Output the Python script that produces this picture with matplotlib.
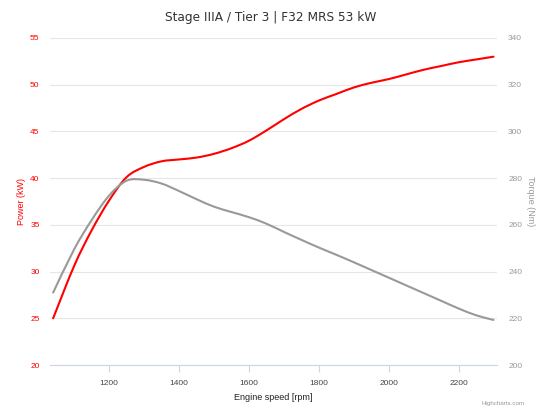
import matplotlib
matplotlib.use("Agg")
import matplotlib.pyplot as plt
from matplotlib.path import Path
from matplotlib.patches import PathPatch

# data
rpm = [1040, 1100, 1150, 1200, 1250, 1300, 1350, 1400, 1450, 1500, 1550, 1600, 1650,
       1700, 1750, 1800, 1850, 1900, 1950, 2000, 2050, 2100, 2150, 2200, 2250, 2300]
power_kw = [25.0, 30.6, 34.4, 37.6, 40.1, 41.2, 41.8, 42.0, 42.2, 42.6, 43.2, 44.0, 45.1,
            46.3, 47.4, 48.3, 49.0, 49.7, 50.2, 50.6, 51.1, 51.6, 52.0, 52.4, 52.7, 53.0]
torque_nm = [231.0, 249.5, 262.0, 272.5, 278.9, 279.3, 277.7, 274.5, 271.0, 267.8, 265.5, 263.3, 260.5,
             257.0, 253.6, 250.3, 247.2, 244.0, 240.7, 237.4, 234.1, 230.8, 227.5, 224.2, 221.3, 219.3]

x_ticks = [1200, 1400, 1600, 1800, 2000, 2200]
power_ticks = [20, 25, 30, 35, 40, 45, 50, 55]
torque_ticks = [200, 220, 240, 260, 280, 300, 320, 340]


def spline_path(xs, ys):
    # smooth curve through the points, like a highcharts spline
    pts = list(zip(xs, ys))
    verts = [pts[0]]
    codes = [Path.MOVETO]
    n = len(pts)
    for i in range(n - 1):
        p0 = pts[max(i - 1, 0)]
        p1 = pts[i]
        p2 = pts[i + 1]
        p3 = pts[min(i + 2, n - 1)]
        c1 = (p1[0] + (p2[0] - p0[0]) / 6, p1[1] + (p2[1] - p0[1]) / 6)
        c2 = (p2[0] - (p3[0] - p1[0]) / 6, p2[1] - (p3[1] - p1[1]) / 6)
        verts += [c1, c2, p2]
        codes += [Path.CURVE4] * 3
    return Path(verts, codes)


plt.rcParams['font.family'] = ['Liberation Sans', 'DejaVu Sans']

W, H = 541, 408
fig = plt.figure(figsize=(W / 100, H / 100), dpi=100)
ax = fig.add_axes([50 / W, 43 / H, 447 / W, 327 / H])
ax2 = ax.twinx()

ax.add_patch(PathPatch(spline_path(rpm, power_kw), fill=False, edgecolor='#ff0000',
                       lw=1.5, capstyle='round', zorder=3))
ax2.add_patch(PathPatch(spline_path(rpm, torque_nm), fill=False, edgecolor='#999999',
                        lw=1.5, capstyle='round', zorder=3))

ax.set_xlim(1031, 2310)
ax.set_ylim(20, 55)
ax2.set_ylim(200, 340)
ax.set_xticks(x_ticks)
ax.set_yticks(power_ticks)
ax2.set_yticks(torque_ticks)

ax.grid(axis='y', color='#e6e6e6', lw=0.8)
ax.set_axisbelow(True)

for a in (ax, ax2):
    for s in a.spines.values():
        s.set_visible(False)
ax.spines['bottom'].set_visible(True)
ax.spines['bottom'].set_color('#ccd6eb')
ax.spines['bottom'].set_linewidth(0.8)

ax.tick_params(axis='x', colors='#ccd6eb', labelcolor='#444444', labelsize=6,
               length=5, width=0.8, pad=6)
ax.tick_params(axis='y', length=0, labelcolor='#ff0000', labelsize=6, pad=7.5)
ax2.tick_params(axis='y', length=0, labelcolor='#999999', labelsize=6, pad=8)

ax.set_xlabel('Engine speed [rpm]', fontsize=6.5, color='#222222', va='center')
ax.xaxis.set_label_coords(0.5, (365 - 397.5) / 327)
ax.set_ylabel('Power (kW)', fontsize=6.5, color='#ff0000', va='center')
ax.yaxis.set_label_coords((21 - 50) / 447, 0.5)
ax2.set_ylabel('Torque (Nm)', fontsize=6.5, color='#999999', rotation=270, va='center')
ax2.yaxis.set_label_coords((530 - 50) / 447, 0.5)

fig.text(0.5, 1 - 18 / H, 'Stage IIIA / Tier 3 | F32 MRS 53 kW', ha='center', va='center',
         fontsize=8.7, color='#333333', family='DejaVu Sans')
fig.text(525 / W, 1 - 404 / H, 'Highcharts.com', ha='right', va='center', fontsize=4.5,
         color='#999999')

fig.savefig('out.png', dpi=100)
